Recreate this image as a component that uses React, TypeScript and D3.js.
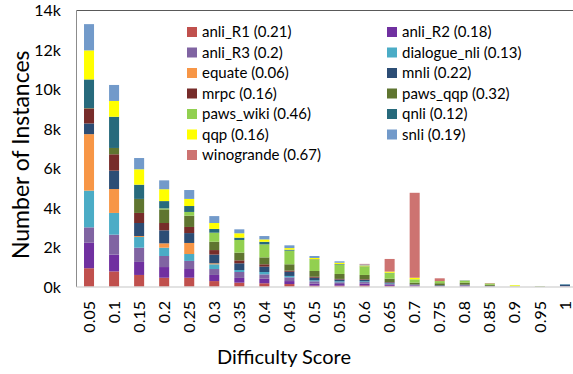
import React from "react";
import * as d3 from "d3";

// difficulty score bins (x axis)
const scores = ["0.05", "0.1", "0.15", "0.2", "0.25", "0.3", "0.35", "0.4", "0.45", "0.5",
  "0.55", "0.6", "0.65", "0.7", "0.75", "0.8", "0.85", "0.9", "0.95", "1"];

// dataset names, mean difficulty in legend, bar colours
const datasets = ["anli_R1", "anli_R2", "anli_R3", "dialogue_nli", "equate", "mnli", "mrpc",
  "paws_qqp", "paws_wiki", "qnli", "qqp", "snli", "winogrande"];
const meanScores = ["0.21", "0.18", "0.2", "0.13", "0.06", "0.22", "0.16", "0.32", "0.46", "0.12", "0.16", "0.19", "0.67"];
const colors = ["#C0504D", "#7030A0", "#8064A2", "#4BACC6", "#F79646", "#2C4D75", "#772C2A",
  "#5F7530", "#92D050", "#276A7C", "#FFFF00", "#729ACA", "#CD7371"];

// number of instances per bin, one array per dataset
const anliR1 = [950, 790, 610, 470, 470, 300, 220, 190, 150, 70, 70, 80, 60, 30, 20, 20, 10, 0, 0, 20];
const anliR2 = [1290, 850, 660, 540, 440, 310, 240, 230, 150, 100, 80, 90, 50, 40, 20, 40, 10, 0, 0, 20];
const anliR3 = [780, 1010, 720, 560, 410, 300, 300, 220, 190, 120, 90, 80, 40, 40, 20, 30, 10, 0, 0, 0];
const dialogueNli = [1860, 1100, 540, 420, 350, 240, 100, 120, 70, 50, 50, 40, 30, 0, 0, 0, 0, 10, 0, 0];
const equate = [2860, 1210, 50, 220, 560, 50, 0, 0, 0, 0, 0, 0, 0, 0, 0, 0, 0, 20, 0, 0];
const mnli = [540, 930, 660, 660, 500, 440, 340, 270, 210, 130, 90, 70, 50, 20, 30, 30, 30, 0, 0, 60];
const mrpc = [760, 830, 510, 370, 310, 230, 150, 120, 60, 50, 30, 30, 20, 0, 0, 0, 0, 0, 0, 0];
const pawsQqp = [20, 320, 710, 690, 570, 420, 390, 350, 320, 290, 250, 220, 170, 90, 100, 100, 50, 0, 30, 0];
const pawsWiki = [0, 0, 0, 50, 190, 460, 640, 660, 690, 560, 470, 400, 280, 170, 110, 100, 70, 40, 20, 0];
const qnli = [1450, 1580, 720, 370, 300, 190, 120, 130, 50, 30, 30, 30, 20, 0, 0, 0, 0, 0, 0, 30];
const qqp = [1470, 800, 780, 600, 360, 300, 220, 120, 80, 70, 70, 50, 60, 80, 0, 10, 0, 30, 0, 0];
const snli = [1330, 810, 570, 450, 450, 350, 200, 170, 140, 100, 70, 50, 0, 0, 0, 20, 0, 0, 0, 20];
const winogrande = [0, 0, 0, 0, 0, 0, 0, 0, 0, 0, 0, 30, 640, 4300, 140, 0, 20, 0, 0, 0];

const seriesValues = [anliR1, anliR2, anliR3, dialogueNli, equate, mnli, mrpc, pawsQqp, pawsWiki, qnli, qqp, snli, winogrande];

const yTicks = [0, 2000, 4000, 6000, 8000, 10000, 12000, 14000];

const width = 573;
const height = 374;
const margin = { top: 10.5, right: -4.5, bottom: 87, left: 76.5 };
const font = "Lato, 'Open Sans', sans-serif";

type Row = { score: string; [key: string]: number | string };

const App: React.FC = () => {
  const rows: Row[] = scores.map((s, i) => {
    const r: Row = { score: s };
    datasets.forEach((d, j) => {
      r[d] = seriesValues[j][i];
    });
    return r;
  });

  const stacked = d3.stack<Row>().keys(datasets).value((d, k) => d[k] as number)(rows);

  const x = d3
    .scaleBand<string>()
    .domain(scores)
    .range([margin.left, width - margin.right])
    .paddingInner(0.6)
    .paddingOuter(0.3);

  const y = d3
    .scaleLinear()
    .domain([0, 14000])
    .range([height - margin.bottom, margin.top]);

  const x0 = margin.left;
  const y0 = y(0);

  return (
    <svg
      width={width}
      height={height}
      style={{ position: "absolute", left: 0, top: 0, background: "#fff" }}
      fontFamily={font}
    >
      {/* plot frame */}
      <line x1={x0} x2={width} y1={margin.top} y2={margin.top} stroke="#595959" strokeWidth={1} />
      <line x1={x0} x2={x0} y1={margin.top} y2={y0} stroke="#8c8c8c" strokeWidth={1} />

      {/* bars */}
      {stacked.map((layer, j) => (
        <g key={layer.key} fill={colors[j]}>
          {layer.map((seg, i) =>
            seg[1] - seg[0] > 0 ? (
              <rect
                key={i}
                x={x(scores[i])}
                width={x.bandwidth()}
                y={y(seg[1])}
                height={y(seg[0]) - y(seg[1])}
              />
            ) : null
          )}
        </g>
      ))}

      <line x1={x0} x2={width} y1={y0} y2={y0} stroke="#d9d9d9" strokeWidth={1.5} />

      {/* y axis */}
      {yTicks.map((t) => (
        <text key={t} x={61} y={y(t)} dy="0.35em" textAnchor="end" fontSize={16} fill="#000">
          {`${t / 1000}k`}
        </text>
      ))}

      {/* x axis */}
      {scores.map((s) => (
        <text
          key={s}
          transform={`translate(${(x(s) as number) + x.bandwidth() / 2},${y0 + 14}) rotate(-90)`}
          dy="0.35em"
          textAnchor="end"
          fontSize={16}
          fill="#000"
        >
          {s}
        </text>
      ))}

      <text x={284} y={364} textAnchor="middle" fontSize={20} fill="#000">
        Difficulty Score
      </text>
      <text
        transform={`translate(29,${(margin.top + y0) / 2 + 6}) rotate(-90)`}
        textAnchor="middle"
        fontSize={23}
        fill="#000"
      >
        Number of Instances
      </text>

      {/* legend, two columns, row-major */}
      {datasets.map((d, j) => {
        const col = j % 2;
        const row = Math.floor(j / 2);
        const lx = col === 0 ? 187 : 387;
        const ly = 32 + row * 20.5;
        return (
          <g key={d}>
            <rect x={lx} y={ly - 5} width={10} height={10} fill={colors[j]} />
            <text x={lx + 15} y={ly} dy="0.35em" fontSize={15} fill="#000">
              {`${d} (${meanScores[j]})`}
            </text>
          </g>
        );
      })}
    </svg>
  );
};

export default App;
